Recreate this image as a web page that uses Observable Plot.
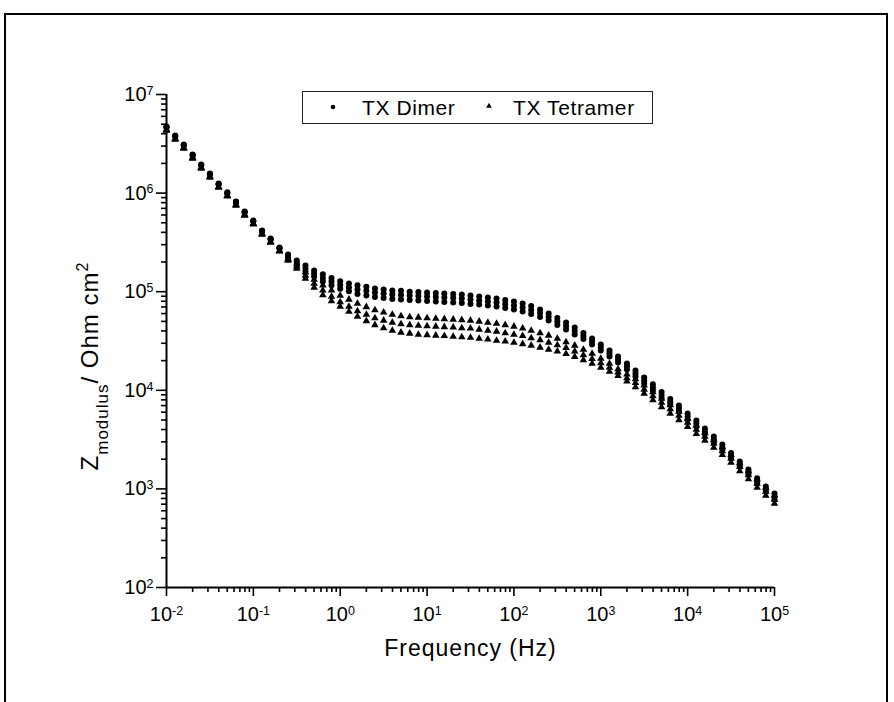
<!DOCTYPE html>
<html><head><meta charset="utf-8">
<script src="https://cdn.jsdelivr.net/npm/d3@7"></script>
<script src="https://cdn.jsdelivr.net/npm/@observablehq/plot@0.6"></script>
<style>
html,body{margin:0;padding:0;overflow:hidden;background:#fff;}
#wrap{position:relative;width:894px;height:702px;font-family:"Liberation Sans",Arial,sans-serif;}
#frame{position:absolute;left:4px;top:13px;width:884px;height:740px;border:2px solid #000;box-sizing:border-box;pointer-events:none;}
#chart{position:absolute;left:0;top:0;}
#legend{position:absolute;left:302px;top:91px;}
</style></head>
<body><div id="wrap"><div id="frame"></div><div id="chart"></div><svg id="legend" width="352" height="34"></svg></div>
<script>
// Frequency (Hz)
const freq = [0.01,0.0126,0.0158,0.02,0.0251,0.0316,0.0398,0.0501,0.0631,0.0794,
0.1,0.126,0.158,0.2,0.251,0.316,0.398,0.501,0.631,0.794,
1,1.26,1.58,2,2.51,3.16,3.98,5.01,6.31,7.94,
10,12.6,15.8,20,25.1,31.6,39.8,50.1,63.1,79.4,
100,126,158,200,251,316,398,501,631,794,
1000,1260,1580,2000,2510,3160,3980,5010,6310,7940,
10000,12600,15800,20000,25100,31600,39800,50100,63100,79400,
100000];

// |Z| (Ohm cm^2), TX Dimer (three measurements)
const dimer1 = [4.73e6,3.83e6,3.11e6,2.46e6,1.95e6,1.58e6,1.25e6,1.02e6,8.22e5,6.50e5,
5.28e5,4.17e5,3.46e5,2.81e5,2.38e5,2.07e5,1.84e5,1.64e5,1.50e5,1.38e5,
1.28e5,1.21e5,1.16e5,1.12e5,1.08e5,1.05e5,1.03e5,1.02e5,1.00e5,9.93e4,
9.82e4,9.70e4,9.59e4,9.48e4,9.37e4,9.15e4,8.94e4,8.73e4,8.53e4,8.24e4,
7.96e4,7.59e4,7.16e4,6.60e4,6.01e4,5.41e4,4.87e4,4.34e4,3.81e4,3.35e4,
2.92e4,2.53e4,2.20e4,1.87e4,1.59e4,1.35e4,1.15e4,9.61e3,8.16e3,7.01e3,
5.82e3,4.94e3,4.10e3,3.40e3,2.82e3,2.31e3,1.90e3,1.57e3,1.28e3,1.06e3,
898];
const dimer2 = [4.68e6,3.79e6,3.07e6,2.43e6,1.93e6,1.56e6,1.23e6,1.00e6,8.12e5,6.43e5,
5.22e5,4.12e5,3.42e5,2.77e5,2.30e5,1.98e5,1.72e5,1.53e5,1.38e5,1.27e5,
1.17e5,1.10e5,1.05e5,1.02e5,9.82e4,9.59e4,9.37e4,9.26e4,9.15e4,9.05e4,
8.94e4,8.84e4,8.73e4,8.63e4,8.53e4,8.34e4,8.15e4,7.96e4,7.77e4,7.51e4,
7.25e4,6.92e4,6.52e4,6.08e4,5.54e4,4.99e4,4.49e4,4.00e4,3.56e4,3.13e4,
2.72e4,2.36e4,2.05e4,1.74e4,1.48e4,1.26e4,1.07e4,8.96e3,7.61e3,6.54e3,
5.43e3,4.61e3,3.82e3,3.17e3,2.63e3,2.18e3,1.79e3,1.49e3,1.20e3,998,
838];
const dimer3 = [4.63e6,3.75e6,3.04e6,2.41e6,1.90e6,1.55e6,1.22e6,9.93e5,8.04e5,6.36e5,
5.16e5,4.07e5,3.38e5,2.74e5,2.22e5,1.89e5,1.60e5,1.43e5,1.27e5,1.16e5,
1.07e5,1.01e5,9.48e4,9.15e4,8.84e4,8.63e4,8.43e4,8.34e4,8.24e4,8.15e4,
8.05e4,7.96e4,7.86e4,7.77e4,7.68e4,7.51e4,7.42e4,7.25e4,7.08e4,6.84e4,
6.60e4,6.30e4,5.94e4,5.54e4,5.11e4,4.60e4,4.14e4,3.68e4,3.31e4,2.92e4,
2.53e4,2.20e4,1.91e4,1.63e4,1.38e4,1.17e4,9.95e3,8.35e3,7.18e3,6.10e3,
5.06e3,4.30e3,3.61e3,2.96e3,2.48e3,2.06e3,1.69e3,1.40e3,1.13e3,941,
781];

// |Z| (Ohm cm^2), TX Tetramer (three measurements)
const tetramer1 = [4.42e6,3.58e6,2.90e6,2.30e6,1.82e6,1.48e6,1.16e6,9.48e5,7.67e5,6.07e5,
4.92e5,3.89e5,3.22e5,2.62e5,2.17e5,1.89e5,1.57e5,1.33e5,1.16e5,1.03e5,
9.15e4,8.34e4,7.59e4,7.00e4,6.52e4,6.16e4,5.87e4,5.67e4,5.54e4,5.48e4,
5.41e4,5.35e4,5.29e4,5.23e4,5.17e4,5.11e4,4.99e4,4.87e4,4.76e4,4.60e4,
4.44e4,4.24e4,4.04e4,3.81e4,3.60e4,3.35e4,3.09e4,2.85e4,2.59e4,2.36e4,
2.10e4,1.87e4,1.64e4,1.45e4,1.30e4,1.12e4,9.61e3,8.26e3,7.09e3,6.10e3,
5.18e3,4.40e3,3.73e3,3.17e3,2.66e3,2.21e3,1.83e3,1.52e3,1.25e3,1.03e3,
857];
const tetramer2 = [4.37e6,3.54e6,2.87e6,2.27e6,1.80e6,1.46e6,1.15e6,9.37e5,7.58e5,6.00e5,
4.87e5,3.84e5,3.19e5,2.59e5,2.12e5,1.80e5,1.46e5,1.21e5,1.03e5,8.94e4,
7.86e4,7.08e4,6.37e4,5.87e4,5.41e4,5.11e4,4.87e4,4.70e4,4.60e4,4.54e4,
4.49e4,4.44e4,4.39e4,4.34e4,4.28e4,4.24e4,4.14e4,4.04e4,3.95e4,3.81e4,
3.68e4,3.56e4,3.39e4,3.24e4,3.05e4,2.88e4,2.69e4,2.48e4,2.28e4,2.08e4,
1.89e4,1.70e4,1.52e4,1.33e4,1.19e4,1.02e4,8.75e3,7.52e3,6.46e3,5.55e3,
4.72e3,4.00e3,3.40e3,2.89e3,2.42e3,2.03e3,1.67e3,1.38e3,1.13e3,941,
781];
const tetramer3 = [4.31e6,3.49e6,2.83e6,2.24e6,1.77e6,1.44e6,1.14e6,9.25e5,7.49e5,5.92e5,
4.81e5,3.80e5,3.15e5,2.56e5,2.07e5,1.72e5,1.36e5,1.10e5,9.26e4,8.05e4,
7.08e4,6.30e4,5.61e4,5.05e4,4.60e4,4.28e4,4.04e4,3.86e4,3.77e4,3.68e4,
3.64e4,3.60e4,3.56e4,3.51e4,3.47e4,3.43e4,3.35e4,3.28e4,3.20e4,3.13e4,
3.05e4,2.95e4,2.85e4,2.72e4,2.59e4,2.48e4,2.34e4,2.18e4,2.03e4,1.87e4,
1.70e4,1.55e4,1.40e4,1.23e4,1.08e4,9.28e3,7.97e3,6.77e3,5.82e3,5.00e3,
4.25e3,3.61e3,3.10e3,2.63e3,2.21e3,1.85e3,1.52e3,1.26e3,1.03e3,857,
711];

const seriesNames = ["TX Dimer","TX Tetramer"];
const xMajorTicks = [1e-2,1e-1,1e0,1e1,1e2,1e3,1e4,1e5];
const yMajorTicks = [1e2,1e3,1e4,1e5,1e6,1e7];
const minorMult = [2,3,4,5,6,7,8,9];
const xTitle = "Frequency (Hz)";
const yTitle = "Z_{modulus}/ Ohm cm^{2}";

const xMinorTicks = xMajorTicks.slice(0,-1).flatMap(d => minorMult.map(m => d*m));
const yMinorTicks = yMajorTicks.slice(0,-1).flatMap(d => minorMult.map(m => d*m));

function rows(arr, name){ return arr.map((z,i) => ({f: freq[i], z, name})); }
const dimerRows = [dimer1,dimer2,dimer3].flatMap(a => rows(a, seriesNames[0]));
const tetraRows = [tetramer1,tetramer2,tetramer3].flatMap(a => rows(a, seriesNames[1]));

const expFmt = d => "10^" + Math.round(Math.log10(d));
const FONT = "'Liberation Sans', Arial, sans-serif";

const chart = Plot.plot({
  width: 894, height: 702,
  marginLeft: 166, marginRight: 120, marginTop: 94, marginBottom: 115,
  style: {fontFamily: FONT, fontSize: "20px", color: "#000", background: "transparent", overflow: "visible"},
  x: {type: "log", domain: [1e-2, 1e5]},
  y: {type: "log", domain: [1e2, 1e7]},
  marks: [
    Plot.axisX({ticks: xMinorTicks, tickSize: 5, tickFormat: () => "", strokeWidth: 1.6, label: null}),
    Plot.axisX({ticks: xMajorTicks, tickSize: 9, tickPadding: 10, tickFormat: expFmt, fontSize: 20, strokeWidth: 1.6, label: null}),
    Plot.axisY({ticks: yMinorTicks, tickSize: 5, tickFormat: () => "", strokeWidth: 1.6, label: null}),
    Plot.axisY({ticks: yMajorTicks, tickSize: 10, tickPadding: 3, tickFormat: expFmt, fontSize: 20, strokeWidth: 1.6, label: null}),
    Plot.ruleX([1e-2], {strokeWidth: 2}),
    Plot.ruleY([1e2], {strokeWidth: 2}),
    Plot.dot(tetraRows, {x: "f", y: "z", r: 2.8, symbol: "triangle", fill: "#000", stroke: "none"}),
    Plot.dot(dimerRows, {x: "f", y: "z", r: 3, symbol: "circle", fill: "#000", stroke: "none"}),
    Plot.text([xTitle], {frameAnchor: "bottom", textAnchor: "middle", dy: 68, fontSize: 23}),
    Plot.text([yTitle], {frameAnchor: "left", textAnchor: "middle", rotate: -90, dx: -76, dy: 25, fontSize: 24})
  ]
});
document.getElementById("chart").appendChild(chart);

const svg = d3.select(chart);
svg.selectAll("text").each(function(){
  const t = this.textContent;
  const m = t.match(/^10\^(-?\d+)$/);
  if (m) {
    const s = d3.select(this);
    s.text("10");
    s.append("tspan").attr("dy", "-0.5em").attr("font-size", "0.62em").text(m[1]);
    return;
  }
  if (t === xTitle) { d3.select(this).attr("letter-spacing", "1px"); }
  if (t === yTitle) {
    const s = d3.select(this).attr("letter-spacing", "1px");
    s.text("");
    s.append("tspan").text("Z");
    s.append("tspan").attr("dy", 10).attr("font-size", 17).text("modulus");
    s.append("tspan").attr("dy", -10).text("/ Ohm cm");
    s.append("tspan").attr("dy", -10).attr("font-size", 16).text("2");
  }
});

// legend
const lg = d3.select("#legend");
lg.append("rect").attr("x", 0.5).attr("y", 0.5).attr("width", 350).attr("height", 32).attr("fill", "#fff").attr("stroke", "#222").attr("stroke-width", 1);
lg.append("path").attr("d", d3.symbol(d3.symbolCircle, Math.PI*2.3*2.3)()).attr("transform", "translate(31,16)").attr("fill", "#000");
lg.append("text").attr("x", 60).attr("y", 23.5).attr("font-size", 21).attr("letter-spacing", "0.6px").attr("font-family", FONT).text(seriesNames[0]);
lg.append("path").attr("d", d3.symbol(d3.symbolTriangle, 14)()).attr("transform", "translate(187,15)").attr("fill", "#000");
lg.append("text").attr("x", 211).attr("y", 23.5).attr("font-size", 21).attr("letter-spacing", "0.6px").attr("font-family", FONT).text(seriesNames[1]);
</script>
</body></html>
